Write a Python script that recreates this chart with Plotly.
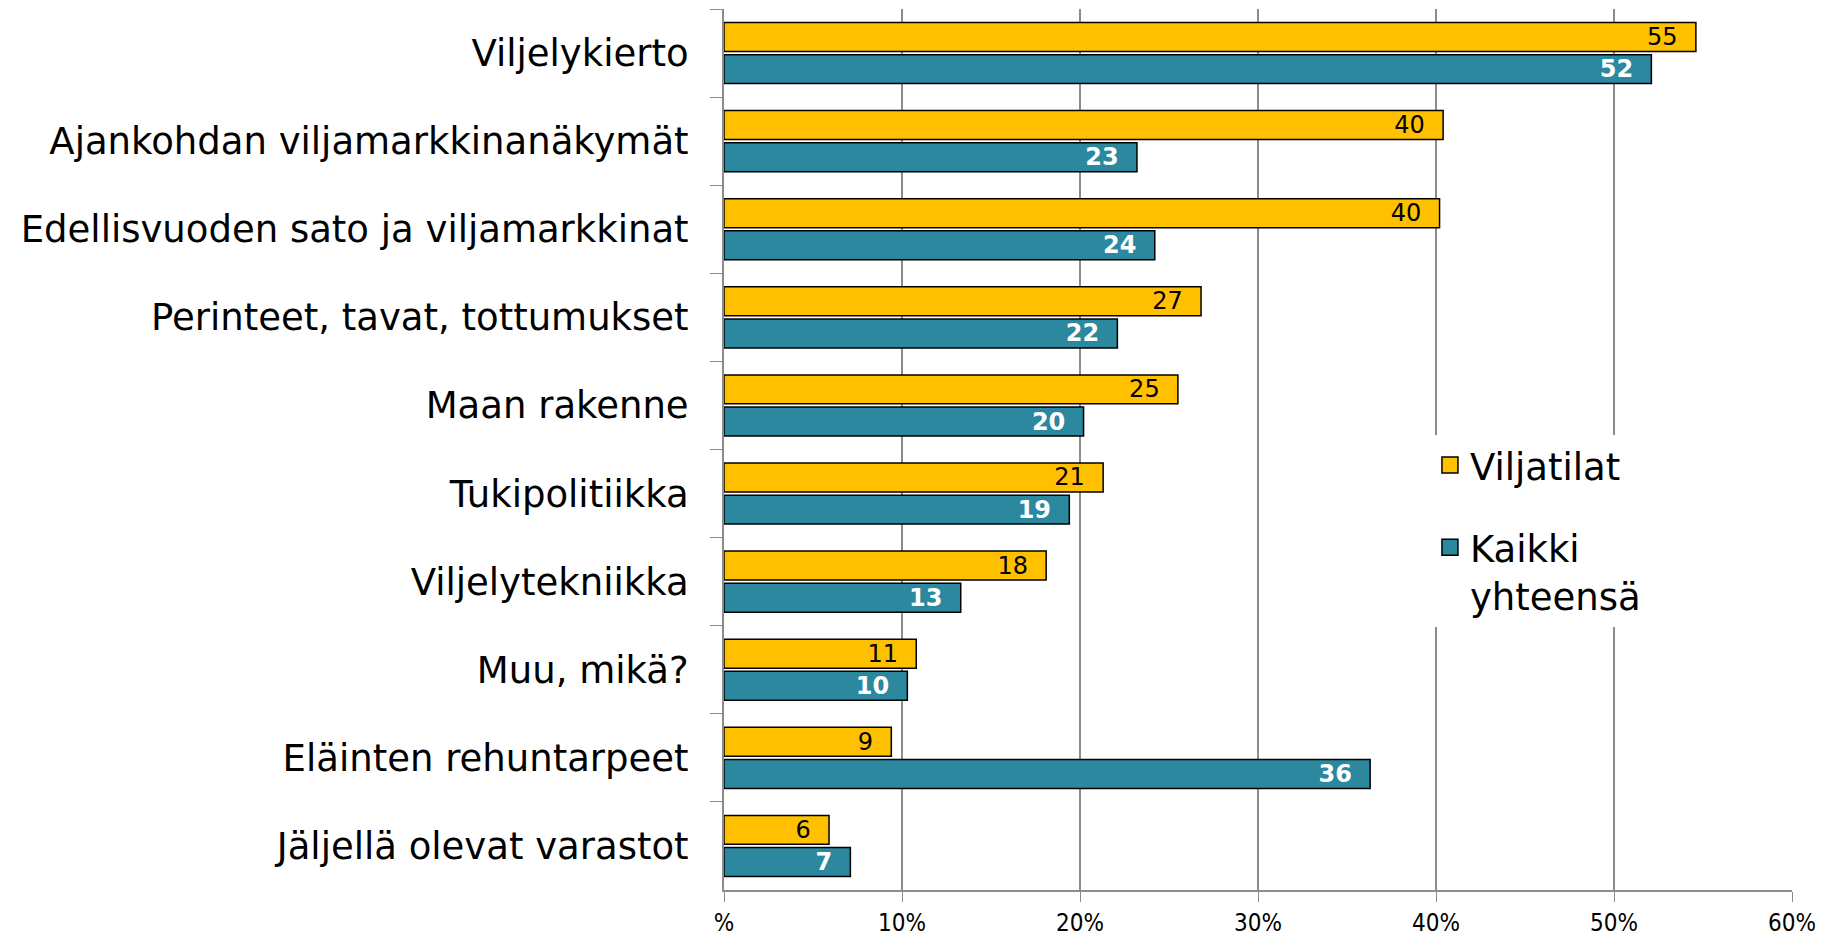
import plotly.graph_objects as go

categories = [
    "Viljelykierto",
    "Ajankohdan viljamarkkinanäkymät",
    "Edellisvuoden sato ja viljamarkkinat",
    "Perinteet, tavat, tottumukset",
    "Maan rakenne",
    "Tukipolitiikka",
    "Viljelytekniikka",
    "Muu, mikä?",
    "Eläinten rehuntarpeet",
    "Jäljellä olevat varastot",
]
viljatilat = [54.6, 40.4, 40.2, 26.8, 25.5, 21.3, 18.1, 10.8, 9.4, 5.9]
viljatilat_labels = ["55", "40", "40", "27", "25", "21", "18", "11", "9", "6"]
kaikki = [52.1, 23.2, 24.2, 22.1, 20.2, 19.4, 13.3, 10.3, 36.3, 7.1]
kaikki_labels = ["52", "23", "24", "22", "20", "19", "13", "10", "36", "7"]

x_ticks = [0, 10, 20, 30, 40, 50, 60]
x_ticktext = ["%", "10%", "20%", "30%", "40%", "50%", "60%"]

FONT = "DejaVu Sans"
YELLOW = "#FFC000"
TEAL = "#2B889E"
PAD = "\u00a0\u00a0"  # keeps the value labels a little in from the bar end

fig = go.Figure()
fig.add_trace(go.Bar(
    y=categories, x=viljatilat, orientation="h", name="Viljatilat",
    marker=dict(color=YELLOW, line=dict(color="black", width=1.5)),
    text=[t + PAD for t in viljatilat_labels], textposition="inside",
    insidetextanchor="end", textangle=0,
    textfont=dict(family=FONT, size=24, color="black"),
    showlegend=False,
))
fig.add_trace(go.Bar(
    y=categories, x=kaikki, orientation="h", name="Kaikki yhteensä",
    marker=dict(color=TEAL, line=dict(color="black", width=1.5)),
    text=["<b>%s</b>%s" % (t, PAD) for t in kaikki_labels], textposition="inside",
    insidetextanchor="end", textangle=0,
    textfont=dict(family=FONT, size=24, color="white"),
    showlegend=False,
))

# legend entries with bigger square swatches
for name, col, grp in [("Viljatilat", YELLOW, "a"), ("Kaikki<br>yhteensä", TEAL, "b")]:
    fig.add_trace(go.Scatter(
        x=[None], y=[None], mode="markers", name=name, legendgroup=grp,
        marker=dict(symbol="square", size=16, color=col,
                    line=dict(color="black", width=1.5)),
    ))

fig.update_layout(
    width=1841, height=938,
    paper_bgcolor="white", plot_bgcolor="white",
    barmode="group", bargap=0.27, bargroupgap=0.1,
    margin=dict(l=716, r=57, t=1, b=56),
    font=dict(family=FONT, color="black"),
    uniformtext=dict(minsize=20, mode="show"),
    legend=dict(
        x=0.661, y=0.517, xanchor="left", yanchor="top",
        bgcolor="white", font=dict(family=FONT, size=37),
        tracegroupgap=31, itemwidth=30, valign="top",
    ),
    xaxis=dict(
        range=[0, 60], tickvals=x_ticks, ticktext=x_ticktext,
        showgrid=True, gridcolor="#8C8C8C", gridwidth=1.5,
        showline=True, linecolor="#8C8C8C", linewidth=2,
        ticks="outside", ticklen=10, tickcolor="#8C8C8C",
        tickfont=dict(family="DejaVu Sans Condensed", size=24),
        zeroline=False,
    ),
    yaxis=dict(
        autorange="reversed", showline=True, linecolor="#8C8C8C", linewidth=2,
        ticks="outside", tickson="boundaries", ticklen=12, tickcolor="#8C8C8C",
        tickfont=dict(family=FONT, size=37), ticklabelstandoff=26,
        showgrid=False,
    ),
)

fig.write_html("out.html")
